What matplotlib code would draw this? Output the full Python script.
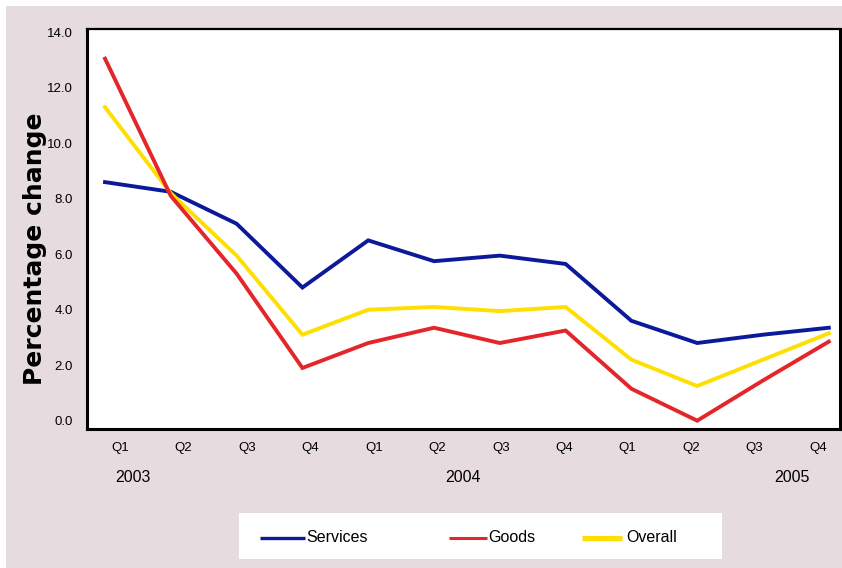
import matplotlib
matplotlib.use("Agg")
import matplotlib.pyplot as plt
from matplotlib.patches import Rectangle
from matplotlib.transforms import blended_transform_factory
import numpy as np

# Quarterly percentage change, Q1 2003 - Q4 2005
quarters = ["Q1", "Q2", "Q3", "Q4", "Q1", "Q2", "Q3", "Q4", "Q1", "Q2", "Q3", "Q4"]
years = ["2003", "2004", "2005"]
services = [8.6, 8.25, 7.1, 4.8, 6.5, 5.75, 5.95, 5.65, 3.6, 2.8, 3.1, 3.35]
goods = [13.05, 8.1, 5.3, 1.9, 2.8, 3.35, 2.8, 3.25, 1.15, 0.0, 1.45, 2.85]
overall = [11.3, 8.2, 5.95, 3.1, 4.0, 4.1, 3.95, 4.1, 2.2, 1.25, 2.2, 3.15]
y_ticks = [0, 2, 4, 6, 8, 10, 12, 14]

C_SERV = "#0c1a9a"
C_GOOD = "#e4252a"
C_OVER = "#ffdf00"
BG = "#e6dbdf"

narrow = ["Liberation Sans Narrow", "Liberation Sans", "DejaVu Sans"]
sans = ["Liberation Sans", "DejaVu Sans"]

W, H = 842, 568
fig = plt.figure(figsize=(W / 100, H / 100), dpi=100, facecolor="white")
fig.patches.append(Rectangle((6 / W, 0), 1 - 6 / W, 1 - 6 / H,
                             transform=fig.transFigure, facecolor=BG,
                             edgecolor="none", zorder=-10))

ax = fig.add_axes([87 / W, 1 - 429 / H, (840 - 87) / W, 400 / H])
ax.set_facecolor("white")

x = np.arange(len(quarters))
ax.plot(x, services, color=C_SERV, lw=2.8, solid_joinstyle="miter", zorder=3)
ax.plot(x, overall, color=C_OVER, lw=2.8, solid_joinstyle="miter", zorder=3)
ax.plot(x, goods, color=C_GOOD, lw=2.8, solid_joinstyle="miter", zorder=4)

ax.set_xlim(-0.274, 11.17)
ax.set_ylim(-0.3, 14.12)

ax.set_yticks(y_ticks)
ax.set_yticklabels([f"{v:.1f}" for v in y_ticks], family=narrow, fontsize=9.5)
ax.tick_params(axis="y", length=0, pad=10)

# quarter labels sit slightly off the data points
label_pos = 0.228 + 0.9643 * np.arange(len(quarters))
ax.set_xticks(label_pos)
ax.set_xticklabels(quarters, family=narrow, fontsize=9.5)
ax.tick_params(axis="x", length=0, pad=9)

for s in ax.spines.values():
    s.set_color("black")
    s.set_linewidth(2.2)
ax.spines["top"].set_linewidth(1.6)

trans = blended_transform_factory(ax.transData, ax.transAxes)
for yr, xp in zip(years, [0.43, 5.44, 10.44]):
    ax.text(xp, -0.122, yr, transform=trans, ha="center", va="center",
            family=sans, fontsize=11.5, color="black")

fig.text(35 / W, 1 - 248.5 / H, "Percentage change", rotation=90,
         ha="center", va="center", fontsize=18, fontweight="black",
         family=["DejaVu Sans"], color="black")

# legend panel
lg = fig.add_axes([239 / W, 1 - 558.7 / H, (722 - 239) / W, 46 / H])
lg.set_facecolor("white")
lg.set_xlim(239, 722)
lg.set_ylim(0, 46)
lg.set_xticks([])
lg.set_yticks([])
for s in lg.spines.values():
    s.set_visible(False)
entries = [("Services", C_SERV, 260, 305, 306, 2.4),
           ("Goods", C_GOOD, 449, 487, 488, 2.2),
           ("Overall", C_OVER, 582, 622, 626, 3.6)]
for name, col, x0, x1, tx, lw in entries:
    lg.plot([x0, x1], [21, 21], color=col, lw=lw, solid_capstyle="butt")
    lg.text(tx, 21, name, ha="left", va="center", family=sans,
            fontsize=11.5, color="black")

fig.savefig("out.png", dpi=100, facecolor=fig.get_facecolor())
